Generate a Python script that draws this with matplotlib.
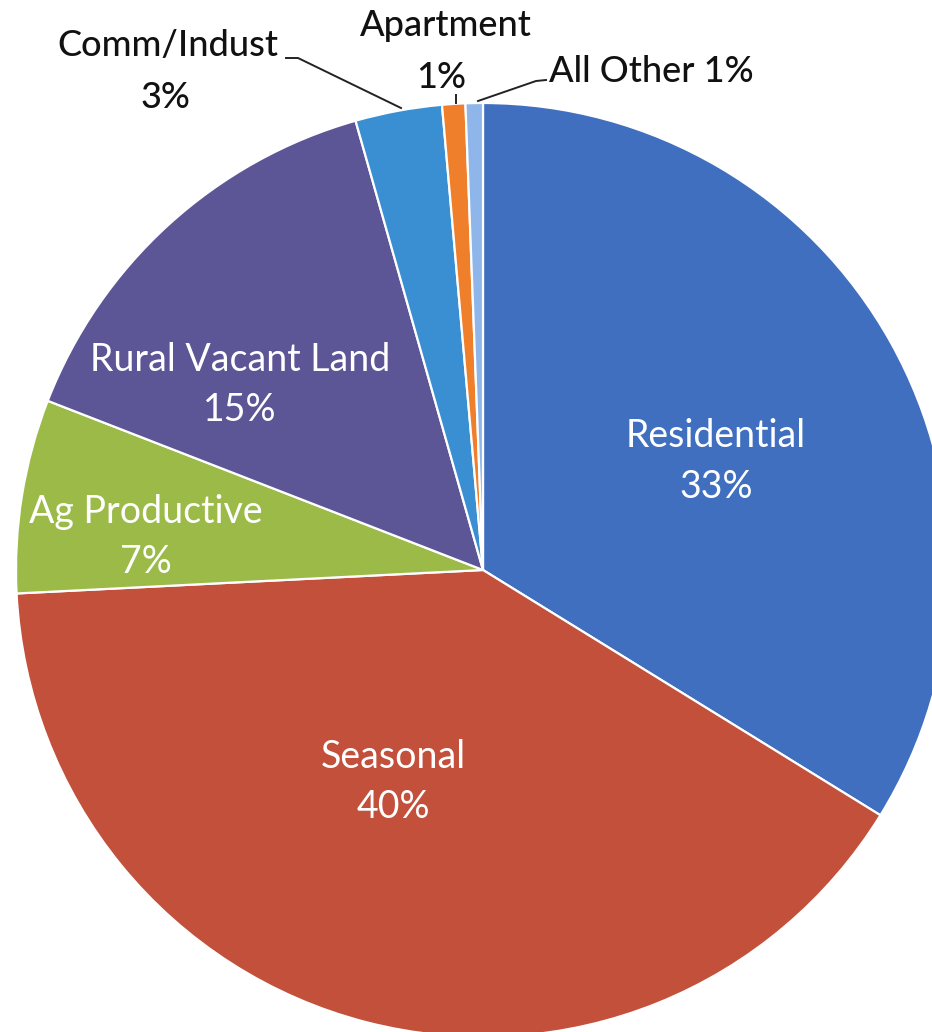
import matplotlib.pyplot as plt

plt.rcParams["font.family"] = ["Lato", "DejaVu Sans"]

# Data
categories = ['Residential', 'Seasonal', 'Ag Productive', 'Rural Vacant Land',
              'Comm/Indust', 'Apartment', 'All Other']
shares = [33.8, 40.4, 6.7, 14.7, 3.0, 0.8, 0.6]
pct_labels = ['33%', '40%', '7%', '15%', '3%', '1%', '1%']
colors = ['#3F6FBE', '#C2503B', '#9BBA48', '#5C5596', '#3A8FD2', '#F07F2C', '#8FB6EA']

W, H = 932, 1032
fig = plt.figure(figsize=(W / 100, H / 100), dpi=100, facecolor='white')
ax = fig.add_axes([0, 0, 1, 1])


def Y(y):
    # pixel row (from top) -> axes y
    return H - y


cx, cy, r = 483, 570, 467
ax.pie(shares, colors=colors, startangle=90, counterclock=False,
       center=(cx, Y(cy)), radius=r, frame=True,
       wedgeprops=dict(edgecolor='white', linewidth=1.6))
ax.set_xlim(0, W)
ax.set_ylim(0, H)
ax.set_aspect('equal')
ax.axis('off')

# interior labels
FS_IN = 27
inside = {0: (716, 436, 487), 1: (393, 757, 807), 2: (146, 512, 562), 3: (240, 360, 410)}
for i, (x, y1, y2) in inside.items():
    ax.text(x, Y(y1), categories[i], ha='center', va='center', color='white', fontsize=FS_IN)
    ax.text(x, Y(y2), pct_labels[i], ha='center', va='center', color='white', fontsize=FS_IN)

# outside labels
FS_OUT = 26
ax.text(168, Y(46), categories[4], ha='center', va='center', color='#111111',
        fontsize=FS_OUT, fontweight='medium')
ax.text(165, Y(97), pct_labels[4], ha='center', va='center', color='#111111',
        fontsize=FS_OUT, fontweight='medium')
ax.plot([286, 298, 401], [Y(58), Y(58), Y(108)], color='#222222', lw=1.4)

ax.text(446, Y(26), categories[5], ha='center', va='center', color='#111111',
        fontsize=FS_OUT, fontweight='medium')
ax.text(441, Y(78), pct_labels[5], ha='center', va='center', color='#111111',
        fontsize=FS_OUT, fontweight='medium')
ax.plot([456, 456], [Y(95), Y(103)], color='#222222', lw=1.4)

ax.text(549, Y(71), f'{categories[6]} {pct_labels[6]}', ha='left', va='center',
        color='#111111', fontsize=FS_OUT, fontweight='medium')
ax.plot([546, 536, 478], [Y(80), Y(81), Y(101)], color='#222222', lw=1.4)

fig.savefig('out.png', dpi=100, facecolor='white')
